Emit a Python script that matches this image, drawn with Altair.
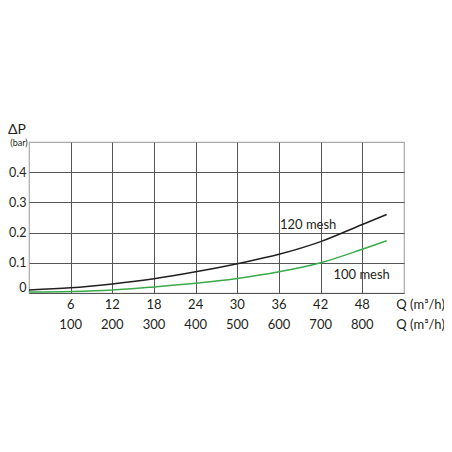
import altair as alt
import pandas as pd

# data
q_m3h = [0, 6, 12, 18, 24, 30, 36, 42, 48, 51.5]
dp_120 = [0.010, 0.017, 0.030, 0.047, 0.070, 0.097, 0.128, 0.170, 0.227, 0.260]
dp_100 = [0.003, 0.005, 0.010, 0.020, 0.032, 0.048, 0.070, 0.100, 0.145, 0.173]
x_ticks = [6, 12, 18, 24, 30, 36, 42, 48]
x_ticks2 = ["100", "200", "300", "400", "500", "600", "700", "800"]
y_ticks = [0, 0.1, 0.2, 0.3, 0.4]

FONT = "Lato"
FS = 13
TXT = "#231f20"

curves = pd.DataFrame(
    [{"q": q, "dp": v, "s": "120 mesh"} for q, v in zip(q_m3h, dp_120)]
    + [{"q": q, "dp": v, "s": "100 mesh"} for q, v in zip(q_m3h, dp_100)]
)

xs = alt.Scale(domain=[0, 54], nice=False, zero=False)
ys = alt.Scale(domain=[0, 0.5], nice=False)

AX = alt.Axis(
    values=x_ticks, grid=True, gridColor="#555555", gridWidth=1,
    ticks=False, domain=False, labels=False, title=None,
)
AY = alt.Axis(
    values=y_ticks, grid=True, gridColor="#555555", gridWidth=1,
    ticks=False, domain=False, title=None, labelFont=FONT, labelFontSize=12.5,
    labelColor=TXT, labelPadding=3, labelOverlap=False, labelBound=False,
    labelExpr="datum.value == 0 ? '0' : format(datum.value, '.1f')",
    labelOffset={"condition": {"test": "datum.value === 0", "value": -6}, "value": 0},
)

lines = alt.Chart(curves).mark_line(strokeWidth=1.5, interpolate="monotone", clip=False).encode(
    x=alt.X("q:Q", scale=xs, axis=AX),
    y=alt.Y("dp:Q", scale=ys, axis=AY),
    color=alt.Color("s:N", scale=alt.Scale(domain=["120 mesh", "100 mesh"], range=["#231f20", "#3aaa4a"]), legend=None),
    detail="s:N",
)

row1 = pd.DataFrame({"x": x_ticks + [52.9], "y": [-0.040] * 9, "t": [str(v) for v in x_ticks] + ["Q (m³/h)"],
                     "a": ["center"] * 8 + ["left"]})
row2 = pd.DataFrame({"x": x_ticks + [52.9], "y": [-0.106] * 9, "t": x_ticks2 + ["Q (m³/h)"],
                     "a": ["center"] * 8 + ["left"]})
ticklab = pd.concat([row1, row2])

def enc(chart):
    return chart.encode(
        x=alt.X("x:Q", scale=xs, axis=AX),
        y=alt.Y("y:Q", scale=ys, axis=AY),
        text="t:N",
    )

tc = enc(alt.Chart(ticklab[ticklab.a == "center"]).mark_text(
    font=FONT, fontSize=FS, color=TXT, align="center", baseline="middle", clip=False))
tl = enc(alt.Chart(ticklab[ticklab.a == "left"]).mark_text(
    font=FONT, fontSize=FS, color=TXT, align="left", baseline="middle", clip=False))

ann = pd.DataFrame({"x": [40.2, 47.9], "y": [0.225, 0.061], "t": ["120 mesh", "100 mesh"]})
annot = enc(alt.Chart(ann).mark_text(
    font=FONT, fontSize=FS, color=TXT, align="center", baseline="middle"))

ytitle = pd.DataFrame({"x": [-1.73, -1.44], "y": [0.54, 0.497], "t": ["ΔP", "(bar)"]})
yt1 = enc(alt.Chart(ytitle.iloc[[0]]).mark_text(
    font=FONT, fontSize=14, color=TXT, align="center", baseline="middle", clip=False))
yt2 = enc(alt.Chart(ytitle.iloc[[1]]).mark_text(
    font=FONT, fontSize=9, color=TXT, align="center", baseline="middle", clip=False))

chart = alt.layer(lines, tc, tl, annot, yt1, yt2).properties(
    width=375, height=151,
    autosize=alt.AutoSizeParams(type="none"),
    padding={"left": 21, "top": 134, "right": 40, "bottom": 151},
    background="white",
).configure_view(stroke="#aaaaaa", strokeWidth=1.2).configure_axisY(labelOverlap=False)

chart.save("out.html", embed_options={"renderer": "svg", "actions": False})
